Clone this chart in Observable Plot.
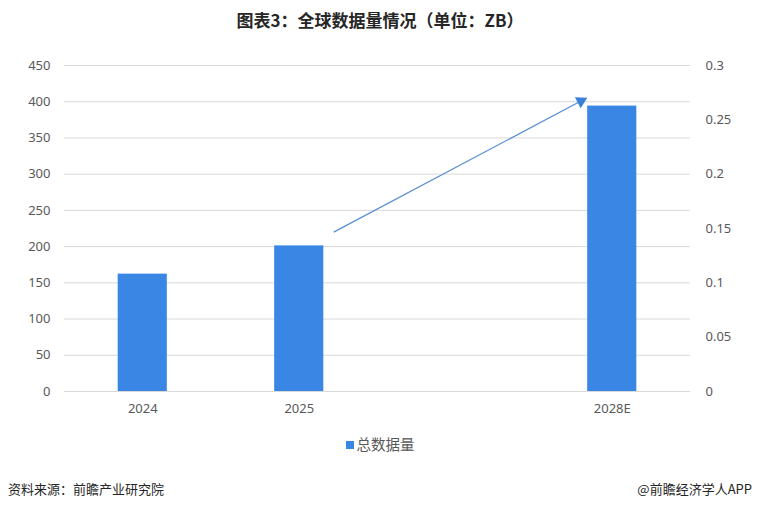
<!DOCTYPE html>
<html><head><meta charset="utf-8">
<script src="https://cdn.jsdelivr.net/npm/d3@7"></script>
<script src="https://cdn.jsdelivr.net/npm/@observablehq/plot@0.6"></script>
<style>
body{margin:0;background:#fff;}
#wrap{position:relative;width:760px;height:508px;font-family:"Noto Sans","Noto Sans CJK SC",sans-serif;}
#title{position:absolute;top:7px;left:0;width:760px;text-align:center;font-weight:bold;font-size:17px;color:#262626;font-family:"Noto Sans CJK SC",sans-serif;}
#chart{position:absolute;top:40px;left:0;}
#legend{position:absolute;top:433px;left:0;width:760px;text-align:center;font-size:14.5px;color:#595959;font-family:"Noto Sans CJK SC",sans-serif;}
#legend .sw{display:inline-block;width:8px;height:8px;background:#3a86e4;margin-right:3px;vertical-align:1px;}
.foot{position:absolute;top:479px;font-size:13px;color:#262626;font-family:"Noto Sans CJK SC",sans-serif;}
</style></head>
<body>
<div id="wrap">
  <div id="title"></div>
  <div id="chart"></div>
  <div id="legend"></div>
  <div class="foot" id="src" style="left:8px"></div>
  <div class="foot" id="app" style="right:8px"></div>
</div>
<script>
const titleText = "图表3：全球数据量情况（单位：ZB）";
const seriesName = "总数据量";
const sourceText = "资料来源：前瞻产业研究院";
const brandText = "@前瞻经济学人APP";
const categories = ["2024", "2025", "", "2028E"];
const values = [162, 201, null, 394];
const leftTicks = [0, 50, 100, 150, 200, 250, 300, 350, 400, 450];
const rightTicks = [0, 0.05, 0.1, 0.15, 0.2, 0.25, 0.3];
// trend arrow endpoints in data space (category index, left-axis value)
const trendArrow = [{x1: 1.22, y1: 220, x2: 2.80, y2: 401}];

document.getElementById("title").textContent = titleText;
document.getElementById("src").textContent = sourceText;
document.getElementById("app").textContent = brandText;
document.getElementById("legend").innerHTML = '<span class="sw"></span>' + seriesName;

const data = categories.map((c, i) => ({i, c, v: values[i]})).filter(d => d.v != null);
const rightScale = 450 / 0.3;
const halfBar = 0.157;

const chart = Plot.plot({
  width: 760,
  height: 390,
  marginTop: 25,
  marginBottom: 39,
  marginLeft: 64,
  marginRight: 70,
  style: {fontFamily: "'Noto Sans', sans-serif", fontSize: "13px", color: "#595959", background: "transparent"},
  x: {domain: [-0.5, categories.length - 0.5], axis: null},
  y: {domain: [0, 450], axis: null},
  marks: [
    Plot.gridY(leftTicks, {stroke: "#d9d9d9", strokeOpacity: 1, strokeWidth: 1}),
    Plot.rectY(data, {x1: d => d.i - halfBar, x2: d => d.i + halfBar, y: "v", fill: "#3a86e4"}),
    Plot.axisY(leftTicks, {anchor: "left", tickSize: 0, tickPadding: 14, fill: "#595959"}),
    Plot.axisY(rightTicks.map(t => t * rightScale), {anchor: "right", tickSize: 0, tickPadding: 15, fill: "#595959",
      tickFormat: v => String(+(v / rightScale).toFixed(2))}),
    Plot.axisX(categories.map((c, i) => i).filter(i => categories[i]), {anchor: "bottom", tickSize: 0, tickPadding: 12,
      fill: "#595959", tickFormat: i => categories[i]}),
    Plot.link(trendArrow, {x1: "x1", y1: "y1", x2: "x2", y2: "y2", stroke: "#5a8fd3", strokeWidth: 1.3}),
    Plot.dot(trendArrow, {x: "x2", y: "y2", symbol: "triangle", r: 4.6, fill: "#3a80d6", stroke: "none", rotate: 62.4})
  ]
});
document.getElementById("chart").appendChild(chart);
</script>
</body></html>
